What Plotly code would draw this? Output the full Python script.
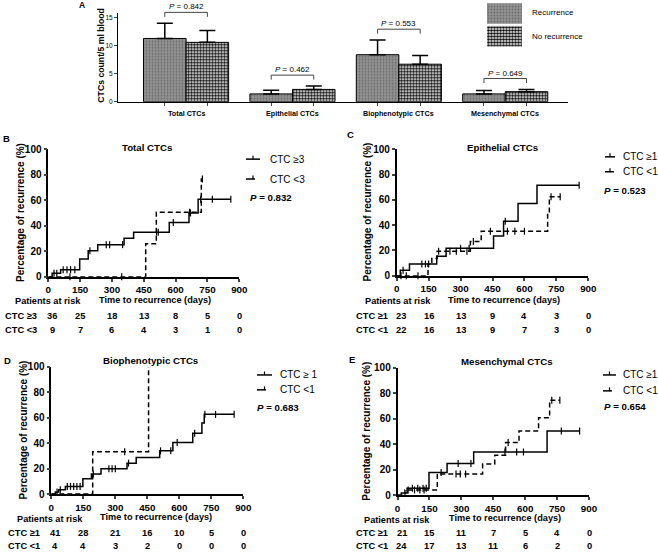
import plotly.graph_objects as go

W, H = 658, 553
FONT = "Arial, Liberation Sans, sans-serif"

# ---------------- Panel A data ----------------
categories = ["Total CTCs", "Epithelial CTCs", "Biophenotypic CTCs", "Mesenchymal CTCs"]
group_names = ["Recurrence", "No recurrence"]
rec_mean = [11.3, 1.4, 8.4, 1.4]
rec_sem = [2.7, 0.65, 2.6, 0.6]
norec_mean = [10.6, 2.2, 6.7, 1.8]
norec_sem = [2.1, 0.6, 1.55, 0.4]
p_bar = ["0.842", "0.462", "0.553", "0.649"]
a_yticks = [0, 5, 10, 15]

# ---------------- KM data (time in days, cumulative recurrence %) ----------------
km_xticks = [0, 150, 300, 450, 600, 750, 900]
km_yticks = [0, 20, 40, 60, 80, 100]
risk_times = [0, 150, 300, 450, 600, 750, 900]

# B: Total CTCs
b_hi_t = [0, 18, 58, 148, 188, 233, 357, 402, 570, 663, 706, 860]
b_hi_p = [0, 2.8, 5.6, 13.9, 20.5, 25.2, 30.2, 35.0, 42.5, 50.0, 60.8, 60.8]
b_hi_cens = [27, 40, 70, 88, 105, 125, 196, 273, 289, 350, 510, 518, 589, 670, 718, 773, 860]
b_lo_t = [0, 459, 509, 721, 726]
b_lo_p = [0, 25.9, 50.6, 76.6, 76.6]
b_lo_cens = [102, 346, 666, 726]
b_risk_hi = [36, 25, 18, 13, 8, 5, 0]
b_risk_lo = [9, 7, 6, 4, 3, 1, 0]

# C: Epithelial CTCs
c_hi_t = [0, 17, 60, 188, 232, 455, 502, 570, 659, 857]
c_hi_p = [0, 4.3, 9.3, 15.5, 21.7, 31.5, 43.0, 57.2, 71.5, 71.5]
c_hi_cens = [30, 118, 135, 150, 300, 340, 510, 857]
c_lo_t = [0, 147, 165, 190, 346, 397, 709, 717, 768]
c_lo_p = [0, 9.1, 13.6, 19.4, 27.0, 35.2, 50.0, 62.5, 62.5]
c_lo_cens = [20, 45, 100, 197, 250, 280, 330, 360, 440, 520, 555, 600, 725, 768]
c_risk_hi = [23, 16, 13, 9, 4, 3, 0]
c_risk_lo = [22, 16, 13, 9, 7, 3, 0]

# D: Biophenotypic CTCs
d_hi_t = [0, 19, 35, 66, 148, 188, 233, 355, 398, 508, 570, 663, 706, 717, 857]
d_hi_p = [0, 1.6, 3.4, 6.0, 12.0, 15.7, 19.8, 24.3, 28.7, 34.0, 40.5, 47.8, 56.0, 62.7, 62.7]
d_hi_cens = [27, 42, 75, 90, 105, 120, 135, 197, 270, 285, 300, 362, 512, 560, 590, 672, 720, 770, 857]
d_lo_t = [0, 194, 456]
d_lo_p = [0, 33.3, 100]
d_lo_cens = [344]
d_risk_hi = [41, 28, 21, 16, 10, 5, 0]
d_risk_lo = [4, 4, 3, 2, 0, 0, 0]

# E: Mesenchymal CTCs
e_hi_t = [0, 18, 45, 148, 233, 358, 703, 856]
e_hi_p = [0, 1.8, 5.5, 18.0, 25.0, 34.0, 50.5, 50.5]
e_hi_cens = [70, 95, 120, 135, 205, 285, 345, 505, 560, 592, 770, 856]
e_lo_t = [0, 35, 187, 400, 457, 508, 571, 663, 715, 763]
e_lo_p = [0, 4.2, 16.7, 24.5, 31.5, 41.4, 50.5, 61.0, 74.7, 74.7]
e_lo_cens = [50, 80, 105, 125, 275, 295, 320, 520, 725, 763]
e_risk_hi = [21, 15, 11, 7, 5, 4, 0]
e_risk_lo = [24, 17, 13, 11, 6, 2, 0]


def px(x):
    return x / W


def py(y):
    return 1 - y / H


def level_at(ts, ps, t):
    v = 0
    for tt, pp in zip(ts, ps):
        if tt <= t:
            v = pp
    return v


def note(x, y, text, size, bold=False, xanchor="center", angle=0, xref="paper", xshift=0):
    f = dict(size=size, family=FONT, color="black")
    if bold:
        f["weight"] = "bold"
    return dict(x=x, y=y, xref=xref, yref="paper", text=text, showarrow=False, xanchor=xanchor,
                yanchor="middle", textangle=angle, font=f, xshift=xshift)


fig = go.Figure()
annotations = []
shapes = []

# ---------------- Panel A ----------------
A_X = (118, 568)
A_Y = (13.3, 102.3)
A_RANGE_Y = (0, 15.8)
A_RANGE_X = (-0.64, 3.59)
xpos = list(range(len(categories)))

REC_MARKER = dict(color="#8e8e8e", line=dict(color="black", width=1),
                  pattern=dict(shape=".", fgcolor="#6a6a6a", bgcolor="#939393", size=3, solidity=0.28,
                               fillmode="replace"))
NOREC_MARKER = dict(color="white", line=dict(color="black", width=1),
                    pattern=dict(shape=".", fgcolor="#111111", bgcolor="white", size=3, solidity=0.62,
                                 fillmode="replace"))

fig.add_trace(go.Bar(
    x=xpos, y=rec_mean, name=group_names[0], xaxis="x", yaxis="y", marker=REC_MARKER,
    error_y=dict(type="data", array=rec_sem, symmetric=False, arrayminus=[0] * 4,
                 color="black", thickness=1.5, width=8),
    showlegend=False))
fig.add_trace(go.Bar(
    x=xpos, y=norec_mean, name=group_names[1], xaxis="x", yaxis="y", marker=NOREC_MARKER,
    error_y=dict(type="data", array=norec_sem, symmetric=False, arrayminus=[0] * 4,
                 color="black", thickness=1.5, width=8),
    showlegend=False))


def a_ypx(v):
    return A_Y[1] - (v - A_RANGE_Y[0]) / (A_RANGE_Y[1] - A_RANGE_Y[0]) * (A_Y[1] - A_Y[0])


for i, cat in enumerate(categories):
    annotations.append(note(i, py(114.5), cat, 7.2, bold=True, xref="x"))
    top = max(rec_mean[i] + rec_sem[i], norec_mean[i] + norec_sem[i])
    ytop = a_ypx(top) - 11
    shapes.append(dict(type="path", xref="x", yref="paper",
                       path=f"M {i-0.2},{py(ytop+4.5)} L {i-0.2},{py(ytop)} L {i+0.2},{py(ytop)} L {i+0.2},{py(ytop+4.5)}",
                       line=dict(color="#444", width=1)))
    annotations.append(note(i, py(ytop - 5.5), f"<i>P</i> = {p_bar[i]}", 8, xref="x"))

annotations.append(note(px(101), py(56), "CTCs count/5 ml blood", 8.7, bold=True, angle=-90))
annotations.append(note(px(82), py(5), "A", 8.5, bold=True))

# Legend swatches for panel A (own small axis)
for j, (nm, mk) in enumerate(zip(group_names, [REC_MARKER, NOREC_MARKER])):
    fig.add_trace(go.Bar(
        y=[j], x=[1], orientation="h", xaxis="x6", yaxis="y6", width=[0.87], offset=-0.435,
        marker=dict(mk, line=dict(color="#888", width=0.6)), showlegend=False, hoverinfo="skip"))
    annotations.append(note(px(530), py(13 + 24 * j), nm, 8, xanchor="left"))

# ---------------- KM panels ----------------
panels = [
    dict(ax=2, letter="B", title="Total CTCs", dx=(48.3, 239.3), dy=(150, 278.3), let=(6, 139), tt=(147, 148),
         yt=21, xt=(155, 301.5), par=(13, 303), rows=(318, 332), lab=3,
         lx=(246, 260), ly=(160, 180), ltx=268, pp=(248, 199), pv="0.832",
         leg=["CTC ≥3", "CTC <3"], rlab=["CTC ≥3", "CTC <3"],
         hi=(b_hi_t, b_hi_p, b_hi_cens), lo=(b_lo_t, b_lo_p, b_lo_cens), risk=(b_risk_hi, b_risk_lo)),
    dict(ax=3, letter="C", title="Epithelial CTCs", dx=(396.7, 588.3), dy=(150, 277.3), let=(350, 135), tt=(502, 148),
         yt=367, xt=(504, 301.5), par=(363, 303), rows=(318, 332), lab=354,
         lx=(605, 615), ly=(157.7, 172.7), ltx=621, pp=(601.7, 191.7), pv="0.523",
         leg=["CTC ≥1", "CTC <1"], rlab=["CTC ≥1", "CTC <1"],
         hi=(c_hi_t, c_hi_p, c_hi_cens), lo=(c_lo_t, c_lo_p, c_lo_cens), risk=(c_risk_hi, c_risk_lo)),
    dict(ax=4, letter="D", title="Biophenotypic CTCs", dx=(51.3, 243.3), dy=(369, 496.7), let=(7, 362), tt=(150, 362),
         yt=24, xt=(156, 520), par=(15, 522), rows=(535.7, 549.3), lab=6,
         lx=(257, 272), ly=(377, 392), ltx=278, pp=(255, 410), pv="0.683",
         leg=["CTC ≥ 1", "CTC <1"], rlab=["CTC ≥1", "CTC <1"],
         hi=(d_hi_t, d_hi_p, d_hi_cens), lo=(d_lo_t, d_lo_p, d_lo_cens), risk=(d_risk_hi, d_risk_lo)),
    dict(ax=5, letter="E", title="Mesenchymal CTCs", dx=(397.5, 589), dy=(370, 498), let=(352, 361), tt=(507, 363),
         yt=367, xt=(505, 520.5), par=(362, 522.5), rows=(536, 549.3), lab=354,
         lx=(603, 616), ly=(377, 393), ltx=621, pp=(601.7, 409), pv="0.654",
         leg=["CTC ≥1", "CTC <1"], rlab=["CTC ≥1", "CTC <1"],
         hi=(e_hi_t, e_hi_p, e_hi_cens), lo=(e_lo_t, e_lo_p, e_lo_cens), risk=(e_risk_hi, e_risk_lo)),
]

BOLD = dict(family=FONT, color="black", weight="bold")
layout_axes = {}

for p in panels:
    n = p["ax"]
    xa, ya = f"x{n}", f"y{n}"
    for (ts, ps, cens), dash in ((p["hi"], "solid"), (p["lo"], "5px,3px")):
        fig.add_trace(go.Scatter(x=ts, y=ps, mode="lines", line=dict(color="black", width=1.5, dash=dash, shape="hv"),
                                 xaxis=xa, yaxis=ya, showlegend=False, hoverinfo="skip"))
        fig.add_trace(go.Scatter(x=cens, y=[level_at(ts, ps, c) for c in cens], mode="markers",
                                 marker=dict(symbol="line-ns", size=5, line=dict(color="black", width=1.2)),
                                 xaxis=xa, yaxis=ya, showlegend=False, hoverinfo="skip", cliponaxis=False))
    layout_axes[f"xaxis{n}"] = dict(domain=[px(p["dx"][0]), px(p["dx"][1])], anchor=ya, range=[0, 900],
                                    tickvals=km_xticks, ticks="outside", ticklen=3, tickwidth=1.5,
                                    showline=True, linewidth=1.5, linecolor="black", showgrid=False,
                                    zeroline=False, tickfont=dict(size=9.8, **BOLD), automargin=False)
    layout_axes[f"yaxis{n}"] = dict(domain=[py(p["dy"][1]), py(p["dy"][0])], anchor=xa, range=[0, 100],
                                    tickvals=km_yticks, ticks="outside", ticklen=3, tickwidth=1.5,
                                    showline=True, linewidth=1.5, linecolor="black", showgrid=False,
                                    zeroline=False, tickfont=dict(size=10, **BOLD), automargin=False)
    annotations.append(note(px(p["let"][0]), py(p["let"][1]), p["letter"], 9.5, bold=True))
    annotations.append(note(px(p["tt"][0]), py(p["tt"][1]), p["title"], 9.7, bold=True))
    mid_y = (p["dy"][0] + p["dy"][1]) / 2
    annotations.append(note(px(p["yt"]), py(mid_y), "Percentage of recurrence (%)", 10, bold=True, angle=-90))
    annotations.append(note(px(p["xt"][0]), py(p["xt"][1]), "Time to recurrence (days)", 9.2, bold=True))
    annotations.append(note(px(p["par"][0]), py(p["par"][1]), "Patients at risk", 9.2, bold=True, xanchor="left"))
    for r, (vals, lab) in enumerate(zip(p["risk"], p["rlab"])):
        yy = py(p["rows"][r])
        annotations.append(note(px(p["lab"]), yy, lab, 9.3, bold=True, xanchor="left"))
        for k, (t, v) in enumerate(zip(risk_times, vals)):
            annotations.append(note(t, yy, str(v), 9.3, bold=True, xref=xa, xshift=4 if k == 0 else 0))
    # manual legend
    for j, dash in enumerate(["solid", "dash"]):
        yy = p["ly"][j]
        shapes.append(dict(type="line", xref="paper", yref="paper", x0=px(p["lx"][0]), x1=px(p["lx"][1]),
                           y0=py(yy), y1=py(yy), line=dict(color="black", width=1.5, dash=dash)))
        xm = (p["lx"][0] + p["lx"][1]) / 2
        shapes.append(dict(type="line", xref="paper", yref="paper", x0=px(xm), x1=px(xm),
                           y0=py(yy), y1=py(yy - 3.5), line=dict(color="black", width=1.2)))
        annotations.append(note(px(p["ltx"]), py(yy), p["leg"][j], 10, xanchor="left"))
    annotations.append(note(px(p["pp"][0]), py(p["pp"][1]), f"<i>P</i> = {p['pv']}", 9.7, bold=True,
                            xanchor="left"))

fig.update_layout(
    width=W, height=H, autosize=False,
    margin=dict(l=0, r=0, t=0, b=0),
    paper_bgcolor="white", plot_bgcolor="white",
    font=dict(family=FONT, color="black"),
    barmode="group", bargap=0.2, bargroupgap=0,
    xaxis=dict(domain=[px(A_X[0]), px(A_X[1])], anchor="y", range=list(A_RANGE_X),
               tickvals=[i + d for i in xpos for d in (-0.2, 0.2)], showticklabels=False,
               ticks="outside", ticklen=3, tickwidth=1, showline=True, linewidth=1, linecolor="black",
               showgrid=False, zeroline=False),
    yaxis=dict(domain=[py(A_Y[1]), py(A_Y[0])], anchor="x", range=list(A_RANGE_Y), tickvals=a_yticks,
               ticks="outside", ticklen=3, tickwidth=1, showline=True, linewidth=1, linecolor="black",
               showgrid=False, zeroline=False, tickfont=dict(size=6.5, family=FONT, color="black")),
    xaxis6=dict(domain=[px(487), px(522)], anchor="y6", range=[0, 1], visible=False, fixedrange=True),
    yaxis6=dict(domain=[py(48), py(2)], anchor="x6", range=[1.5, -0.5], visible=False, fixedrange=True),
    annotations=annotations, shapes=shapes,
    **layout_axes,
)

fig.write_html("out.html", config={"displayModeBar": False},
               post_script="document.body.style.margin='0';document.body.style.overflow='hidden';")
